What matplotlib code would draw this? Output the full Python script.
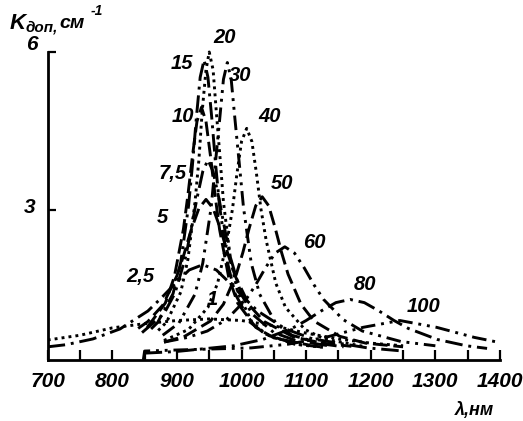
import matplotlib.pyplot as plt
from matplotlib.ticker import MultipleLocator

# кривые: длина волны (нм) и коэффициент поглощения (см^-1)
lam_1 = [700, 750, 800, 850, 900, 950, 1000, 1050, 1100, 1150, 1200, 1250]
k_1 = [0.53, 0.62, 0.76, 0.84, 0.90, 0.93, 0.90, 0.80, 0.66, 0.55, 0.47, 0.42]

lam_2_5 = [700, 728, 770, 812, 855, 876, 898, 919, 940, 961, 982, 1004, 1025, 1068, 1110, 1195, 1250]
k_2_5 = [0.40, 0.44, 0.55, 0.74, 1.08, 1.33, 1.61, 1.86, 1.96, 1.86, 1.61, 1.33, 1.08, 0.74, 0.55, 0.38, 0.32]

lam_5 = [840, 855, 878, 900, 911, 922, 934, 945, 956, 968, 979, 990, 1012, 1035, 1080, 1125, 1170]
k_5 = [0.75, 0.88, 1.19, 1.75, 2.16, 2.62, 3.03, 3.20, 3.03, 2.62, 2.16, 1.75, 1.19, 0.88, 0.59, 0.47, 0.41]

lam_7_5 = [846, 880, 897, 914, 922, 931, 940, 948, 956, 965, 974, 982, 999, 1016, 1050, 1084, 1135]
k_7_5 = [0.67, 1.03, 1.42, 2.13, 2.64, 3.22, 3.73, 3.95, 3.73, 3.22, 2.64, 2.13, 1.42, 1.03, 0.67, 0.52, 0.42]

lam_10 = [854, 882, 896, 910, 917, 924, 931, 938, 945, 952, 959, 966, 980, 994, 1022, 1050, 1106]
k_10 = [0.77, 1.23, 1.73, 2.63, 3.28, 4.02, 4.68, 4.95, 4.68, 4.02, 3.28, 2.63, 1.73, 1.23, 0.77, 0.57, 0.43]

lam_15 = [860, 870, 894, 906, 918, 924, 930, 936, 942, 948, 954, 960, 966, 978, 990, 1014, 1038, 1086, 1122]
k_15 = [0.74, 0.86, 1.41, 2.01, 3.08, 3.85, 4.74, 5.52, 5.85, 5.52, 4.74, 3.85, 3.08, 2.01, 1.41, 0.86, 0.63, 0.45, 0.40]

lam_20 = [871, 884, 906, 917, 928, 934, 939, 945, 950, 956, 961, 967, 972, 983, 994, 1016, 1038, 1082, 1126]
k_20 = [0.71, 0.87, 1.44, 2.06, 3.15, 3.95, 4.86, 5.66, 6.00, 5.66, 4.86, 3.95, 3.15, 2.06, 1.44, 0.87, 0.64, 0.45, 0.39]

lam_30 = [878, 903, 928, 940, 953, 959, 966, 972, 978, 984, 990, 997, 1003, 1015, 1028, 1053, 1078, 1128, 1158]
k_30 = [0.62, 0.85, 1.40, 1.99, 3.05, 3.82, 4.70, 5.48, 5.80, 5.48, 4.70, 3.82, 3.05, 1.99, 1.40, 0.85, 0.62, 0.45, 0.40]

lam_40 = [880, 918, 948, 963, 978, 986, 993, 1000, 1008, 1016, 1023, 1030, 1038, 1053, 1068, 1098, 1128, 1188]
k_40 = [0.52, 0.73, 1.15, 1.61, 2.43, 3.02, 3.70, 4.30, 4.55, 4.30, 3.70, 3.02, 2.43, 1.61, 1.15, 0.73, 0.55, 0.41]

lam_50 = [880, 912, 952, 972, 992, 1002, 1012, 1022, 1032, 1042, 1052, 1062, 1072, 1092, 1112, 1152, 1192, 1250]
k_50 = [0.49, 0.60, 0.89, 1.21, 1.78, 2.19, 2.66, 3.08, 3.25, 3.08, 2.66, 2.19, 1.78, 1.21, 0.89, 0.60, 0.47, 0.40]

lam_60 = [880, 917, 947, 977, 1007, 1022, 1037, 1052, 1067, 1082, 1097, 1112, 1127, 1157, 1187, 1247, 1300]
k_60 = [0.49, 0.58, 0.70, 0.92, 1.30, 1.58, 1.90, 2.18, 2.30, 2.18, 1.90, 1.58, 1.30, 0.92, 0.70, 0.50, 0.42]

lam_80 = [850, 898, 988, 1033, 1078, 1100, 1123, 1146, 1168, 1190, 1213, 1236, 1258, 1303, 1348, 1380]
k_80 = [0.28, 0.31, 0.42, 0.54, 0.75, 0.90, 1.08, 1.24, 1.30, 1.24, 1.08, 0.90, 0.75, 0.54, 0.42, 0.37]

lam_100 = [848, 850, 900, 1015, 1072, 1130, 1188, 1245, 1302, 1360, 1400]
k_100 = [0.15, 0.32, 0.34, 0.38, 0.45, 0.58, 0.77, 0.90, 0.77, 0.58, 0.48]

curve_names = ["1", "2,5", "5", "7,5", "10", "15", "20", "30", "40", "50", "60", "80", "100"]
curve_lam = [lam_1, lam_2_5, lam_5, lam_7_5, lam_10, lam_15, lam_20, lam_30, lam_40, lam_50, lam_60, lam_80, lam_100]
curve_k = [k_1, k_2_5, k_5, k_7_5, k_10, k_15, k_20, k_30, k_40, k_50, k_60, k_80, k_100]

# где стоят подписи кривых
label_x = [954, 843, 877, 894, 909, 908, 974, 997, 1044, 1062, 1113, 1191, 1281]
label_y = [1.29, 1.73, 2.85, 3.70, 4.77, 5.79, 6.27, 5.56, 4.77, 3.51, 2.39, 1.58, 1.16]

dot = (0, (1, 1.4))
dash = (0, (5, 2))
dashdot = (0, (6, 2, 1, 2))
dashdotdot = (0, (5, 2, 1, 2, 1, 2))
styles = [dot, dashdot, dash, dashdot, dash, dashdot, dot, dashdotdot, dot, dash, dashdotdot, dashdot, dashdotdot]

font = ['Liberation Sans', 'DejaVu Sans']
txt = dict(style='italic', family=font, weight='bold')

fig = plt.figure(figsize=(5.23, 4.21), dpi=100)
ax = fig.add_axes([0.0912, 0.1449, 0.8648, 0.7691])

for lam, k, ls in zip(curve_lam, curve_k, styles):
    ax.plot(lam, k, color='black', lw=2.1, linestyle=ls, solid_capstyle='butt')

for name, x, y in zip(curve_names, label_x, label_y):
    ax.text(x, y, name, fontsize=14.5, ha='center', va='center', **txt)

ax.set_xlim(700, 1400)
ax.set_ylim(0.15, 6.3)
ax.spines['top'].set_visible(False)
ax.spines['right'].set_visible(False)
ax.spines['left'].set_linewidth(2)
ax.spines['bottom'].set_linewidth(2)
ax.spines['left'].set_bounds(0.15, 6.0)

ax.xaxis.set_major_locator(MultipleLocator(100))
ax.xaxis.set_minor_locator(MultipleLocator(50))
ax.tick_params(axis='x', which='both', direction='in', length=7, width=1.6, pad=9)
for t in ax.get_xticklabels():
    t.set_family(font)
    t.set_style('italic')
    t.set_weight('bold')
    t.set_fontsize(15)

ax.set_yticks([3, 6])
ax.set_yticklabels([])
ax.tick_params(axis='y', direction='in', length=6, width=1.6)
ax.text(672, 3.05, "3", fontsize=15, ha='center', va='center', **txt)
ax.text(676, 6.14, "6", fontsize=15, ha='center', va='center', **txt)

fig.text(10 / 523, 1 - 29 / 421, "K", fontsize=16, **txt)
fig.text(26 / 523, 1 - 32 / 421, "доп,", fontsize=11, **txt)
fig.text(59 / 523, 1 - 28 / 421, "см", fontsize=14, **txt)
fig.text(91 / 523, 1 - 15 / 421, "-1", fontsize=10, **txt)
fig.text(474 / 523, 1 - 410 / 421, "λ,нм", fontsize=13, ha='center', va='center', **txt)

fig.savefig("out.png", dpi=100)
